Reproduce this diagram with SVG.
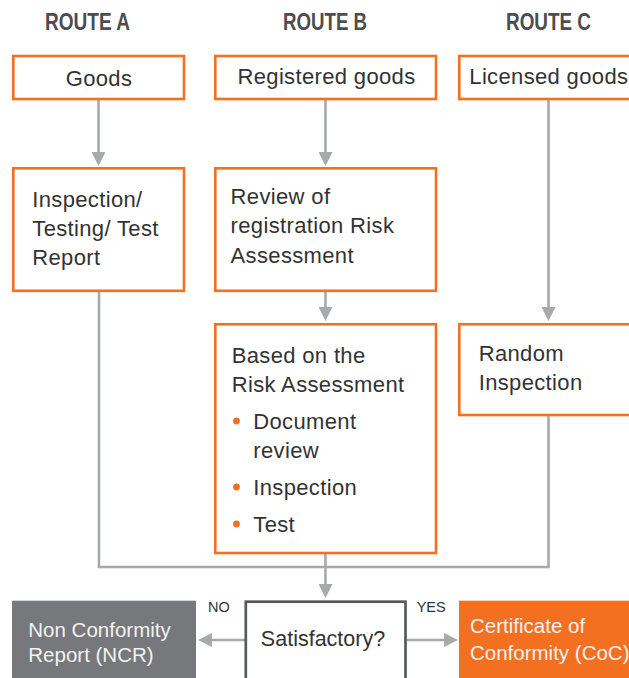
<svg xmlns="http://www.w3.org/2000/svg" width="629" height="678" viewBox="0 0 629 678">
  <style>
    .title { font-family: "Liberation Sans", Arial, sans-serif; font-weight: bold; font-size: 23px; fill: #4d4d4f; }
    .box { fill: #ffffff; stroke: #f37021; stroke-width: 2.6; }
    .lbl { font-family: "Liberation Sans", Arial, sans-serif; font-size: 22px; letter-spacing: 0.35px; fill: #333333; }
    .sat { font-family: "Liberation Sans", Arial, sans-serif; font-size: 21.5px; fill: #333333; }
    .wlbl { font-family: "Liberation Sans", Arial, sans-serif; font-size: 20.5px; fill: #f2f2f2; }
    .small { font-family: "Liberation Sans", Arial, sans-serif; font-size: 14.5px; fill: #333333; }
    .conn { fill: none; stroke: #a7a9ac; stroke-width: 2.6; }
    .bullet { fill: #f37021; }
  </style>
  <defs>
    <marker id="arrow" viewBox="0 0 14 14" refX="10" refY="7" markerWidth="14" markerHeight="14" markerUnits="userSpaceOnUse" orient="auto">
      <path d="M0,0 L14,7 L0,14 Z" fill="#a7a9ac"/>
    </marker>
  </defs>
  <rect width="629" height="678" fill="#ffffff"/>

  <g id="titles">
    <text class="title" x="45" y="30" textLength="85" lengthAdjust="spacingAndGlyphs">ROUTE A</text>
    <text class="title" x="283" y="30" textLength="84" lengthAdjust="spacingAndGlyphs">ROUTE B</text>
    <text class="title" x="506" y="30" textLength="85" lengthAdjust="spacingAndGlyphs">ROUTE C</text>
  </g>

  <g id="connectors">
    <line class="conn" x1="98.5" y1="99" x2="98.5" y2="162" marker-end="url(#arrow)"/>
    <line class="conn" x1="325.5" y1="99" x2="325.5" y2="162" marker-end="url(#arrow)"/>
    <line class="conn" x1="548.5" y1="99" x2="548.5" y2="317" marker-end="url(#arrow)"/>
    <line class="conn" x1="325.5" y1="291" x2="325.5" y2="317" marker-end="url(#arrow)"/>
    <polyline class="conn" points="99,291 99,567 548.5,567 548.5,415"/>
    <line class="conn" x1="325.5" y1="553" x2="325.5" y2="594" marker-end="url(#arrow)"/>
    <line class="conn" x1="245" y1="640" x2="202" y2="640" marker-end="url(#arrow)"/>
    <line class="conn" x1="406" y1="640" x2="454" y2="640" marker-end="url(#arrow)"/>
  </g>

  <g id="goods">
    <rect class="box" x="13.3" y="56" width="170.7" height="43"/>
    <text class="lbl" x="99" y="86" text-anchor="middle">Goods</text>
  </g>

  <g id="registered-goods">
    <rect class="box" x="215.3" y="56" width="220.7" height="43"/>
    <text class="lbl" x="326.5" y="84.3" text-anchor="middle">Registered goods</text>
  </g>

  <g id="licensed-goods">
    <rect class="box" x="459.3" y="56" width="175" height="43"/>
    <text class="lbl" x="469.3" y="84.3">Licensed goods</text>
  </g>

  <g id="inspection-testing">
    <rect class="box" x="13.3" y="168.3" width="170.7" height="122.5"/>
    <text class="lbl" x="32.3" y="206.7">Inspection/</text>
    <text class="lbl" x="32.3" y="236">Testing/ Test</text>
    <text class="lbl" x="32.3" y="265.3">Report</text>
  </g>

  <g id="review-registration">
    <rect class="box" x="215.3" y="168.3" width="220.7" height="122.5"/>
    <text class="lbl" x="230.6" y="204">Review of</text>
    <text class="lbl" x="230.6" y="233.3">registration Risk</text>
    <text class="lbl" x="230.6" y="263.3">Assessment</text>
  </g>

  <g id="risk-assessment">
    <rect class="box" x="215.3" y="324.3" width="220.7" height="228.7"/>
    <text class="lbl" x="231.7" y="362.7">Based on the</text>
    <text class="lbl" x="231.7" y="391.7">Risk Assessment</text>
    <circle class="bullet" cx="236.5" cy="421" r="3.4"/>
    <text class="lbl" x="253.3" y="429.3">Document</text>
    <text class="lbl" x="253.3" y="457.7">review</text>
    <circle class="bullet" cx="236.5" cy="487" r="3.4"/>
    <text class="lbl" x="253.3" y="495">Inspection</text>
    <circle class="bullet" cx="236.5" cy="524" r="3.4"/>
    <text class="lbl" x="253.3" y="531.7">Test</text>
  </g>

  <g id="random-inspection">
    <rect class="box" x="459.3" y="324.3" width="175" height="90.7"/>
    <text class="lbl" x="478.7" y="360.7">Random</text>
    <text class="lbl" x="478.7" y="390">Inspection</text>
  </g>

  <g id="satisfactory">
    <rect x="245.8" y="601.7" width="159.7" height="90" fill="#ffffff" stroke="#58595b" stroke-width="2.7"/>
    <text class="sat" x="323" y="646" text-anchor="middle">Satisfactory?</text>
  </g>

  <g id="ncr">
    <rect x="12" y="600.7" width="184" height="80" fill="#77787b"/>
    <text class="wlbl" x="28.3" y="636.7">Non Conformity</text>
    <text class="wlbl" x="28.3" y="662.3">Report (NCR)</text>
  </g>

  <g id="coc">
    <rect x="459" y="600.7" width="175" height="80" fill="#f37021"/>
    <text class="wlbl" x="470" y="632.7">Certificate of</text>
    <text class="wlbl" x="470" y="660">Conformity (CoC)</text>
  </g>

  <g id="edge-labels">
    <text class="small" x="208" y="612">NO</text>
    <text class="small" x="416.7" y="611.7">YES</text>
  </g>
</svg>
